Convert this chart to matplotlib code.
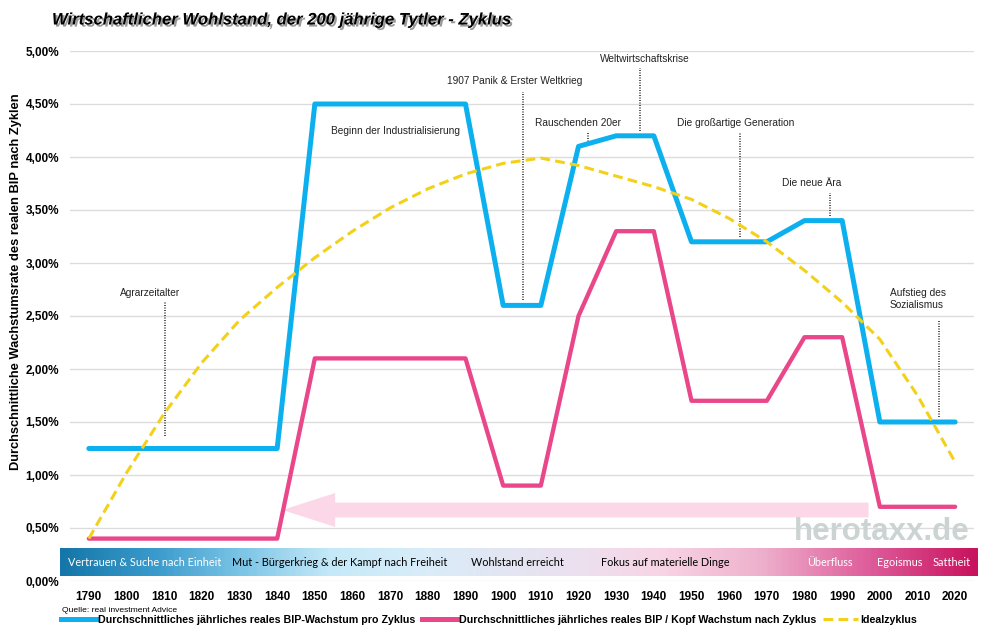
import numpy as np
import matplotlib
matplotlib.use('Agg')
import matplotlib.pyplot as plt
import matplotlib.patheffects as pe
from matplotlib.colors import LinearSegmentedColormap
from matplotlib.patches import FancyArrow
from matplotlib.lines import Line2D

# data
years = [1790, 1800, 1810, 1820, 1830, 1840, 1850, 1860, 1870, 1880, 1890, 1900,
         1910, 1920, 1930, 1940, 1950, 1960, 1970, 1980, 1990, 2000, 2010, 2020]
bip = [1.25, 1.25, 1.25, 1.25, 1.25, 1.25, 4.5, 4.5, 4.5, 4.5, 4.5, 2.6,
       2.6, 4.1, 4.2, 4.2, 3.2, 3.2, 3.2, 3.4, 3.4, 1.5, 1.5, 1.5]
bip_kopf = [0.4, 0.4, 0.4, 0.4, 0.4, 0.4, 2.1, 2.1, 2.1, 2.1, 2.1, 0.9,
            0.9, 2.5, 3.3, 3.3, 1.7, 1.7, 1.7, 2.3, 2.3, 0.7, 0.7, 0.7]
ideal = [0.4, 1.02, 1.58, 2.06, 2.46, 2.77, 3.05, 3.3, 3.52, 3.7, 3.84, 3.94,
         3.99, 3.92, 3.82, 3.72, 3.6, 3.42, 3.2, 2.93, 2.63, 2.28, 1.75, 1.12]

series_names = ['Durchschnittliches jährliches reales BIP-Wachstum pro Zyklus',
                'Durchschnittliches jährliches reales BIP / Kopf Wachstum nach Zyklus',
                'Idealzyklus']

# event labels: text, text x/y, dotted line x, line from/to
events = ['Agrarzeitalter', 'Beginn der Industrialisierung', '1907 Panik & Erster Weltkrieg',
          'Rauschenden 20er', 'Weltwirtschaftskrise', 'Die großartige Generation',
          'Die neue Ära', 'Aufstieg des\nSozialismus']
event_text_x = [1806.2, 1871.3, 1903.1, 1919.9, 1937.7, 1961.6, 1982.0, 2002.7]
event_text_y = [2.72, 4.25, 4.72, 4.32, 4.92, 4.32, 3.75, 2.66]
event_line_x = [1810.2, None, 1905.3, 1922.5, 1936.3, 1962.9, 1986.8, 2015.8]
event_line_y0 = [1.37, None, 2.65, 4.12, 4.25, 3.25, 3.44, 1.55]
event_line_y1 = [2.63, None, 4.61, 4.24, 4.84, 4.23, 3.66, 2.46]

phases = ['Vertrauen & Suche nach Einheit', 'Mut - Bürgerkrieg & der Kampf nach Freiheit',
          'Wohlstand erreicht', 'Fokus auf materielle Dinge', 'Überfluss', 'Egoismus', 'Sattheit']
phase_px = [145, 340, 517, 665, 830, 900, 952]
phase_colors = ['white', 'black', 'black', 'black', 'white', 'white', 'white']

blue = '#0db0ee'
pink = '#e9478a'
yellow = '#f3d11b'

plt.rcParams['font.family'] = ['Liberation Sans', 'DejaVu Sans']

fig = plt.figure(figsize=(9.87, 6.28), dpi=100)
ax = fig.add_axes([70/987, 47/628, 904/987, 530/628])

# pink arrow in background
arrow = FancyArrow(1997, 0.67, -155.6, 0, width=0.14, head_width=0.32, head_length=14,
                   length_includes_head=True, color='#fbd7e7', lw=0, zorder=1)
ax.add_patch(arrow)

ax.plot(years, bip, color=blue, lw=3.6, solid_joinstyle='round', solid_capstyle='round', zorder=3)
ax.plot(years, bip_kopf, color=pink, lw=3.1, solid_joinstyle='round', solid_capstyle='round', zorder=4)
ax.plot(years, ideal, color=yellow, lw=2.2, dashes=(3.2, 1.7), zorder=5)

for i, txt in enumerate(events):
    ha = 'left' if '\n' in txt else 'center'
    ax.text(event_text_x[i], event_text_y[i], txt, ha=ha, va='center', fontsize=7.3,
            color='#222222', linespacing=1.2, zorder=6)
    if event_line_x[i] is not None:
        ax.plot([event_line_x[i], event_line_x[i]], [event_line_y0[i], event_line_y1[i]],
                color='#333333', lw=1.2, ls=(0, (0.6, 0.9)), zorder=2)

ax.set_xlim(1785, 2025)
ax.set_ylim(0, 5)
ax.set_xticks(years)
ax.set_xticklabels([str(y) for y in years], fontsize=8.5, fontweight='bold')
yt = np.arange(0, 5.01, 0.5)
ax.set_yticks(yt)
ax.set_yticklabels([f'{v:.2f}%'.replace('.', ',') for v in yt], fontsize=8.5, fontweight='bold')
ax.tick_params(axis='both', length=0)
ax.tick_params(axis='y', pad=8)
ax.tick_params(axis='x', pad=7.5)
ax.grid(axis='y', color='#dcdcdc', lw=1)
ax.set_axisbelow(True)
for s in ax.spines.values():
    s.set_visible(False)

# watermark
fig.text(882/987, 1-532/628, 'herotaxx.de', fontsize=22.5, fontweight='bold', color='#ccd3d3',
         ha='center', va='center', zorder=0)

# gradient band of phases
band = fig.add_axes([60/987, 1-576/628, 918/987, 28/628])
cmap = LinearSegmentedColormap.from_list('band', [
    (0.0, '#1577a9'), (0.1, '#3a9acb'), (0.196, '#7cc5e6'), (0.294, '#c5e9f8'),
    (0.392, '#d8edf9'), (0.48, '#e3e6f3'), (0.566, '#ece0ef'), (0.654, '#f8d5e5'),
    (0.763, '#eeb2cd'), (0.883, '#de5d9b'), (1.0, '#c8135e')])
band.imshow(np.linspace(0, 1, 400).reshape(1, -1), cmap=cmap, aspect='auto',
            extent=(60, 978, 0, 1))
band.set_xlim(60, 978)
band.set_ylim(0, 1)
band.axis('off')
for name, px, c in zip(phases, phase_px, phase_colors):
    band.text(px, 0.5, name, ha='center', va='center', fontsize=7.8, color=c,
              family=['Lato', 'DejaVu Sans'])

# title with shadow
fig.text(52/987, 1-20/628, 'Wirtschaftlicher Wohlstand, der 200 jährige Tytler - Zyklus',
         ha='left', va='center', fontsize=12, fontweight='bold', style='italic',
         path_effects=[pe.SimplePatchShadow(offset=(1.5, -1.5), shadow_rgbFace='#555555', alpha=0.6),
                       pe.Normal()])

fig.text(16/987, 1-282/628, 'Durchschnittliche Wachstumsrate des realen BIP nach Zyklen',
         rotation=90, ha='center', va='center', fontsize=9.3, fontweight='bold')

fig.text(62/987, 1-610/628, 'Quelle: real investment Advice', fontsize=6.1, ha='left', va='center')

handles = [Line2D([], [], color=blue, lw=3.6),
           Line2D([], [], color=pink, lw=3.6),
           Line2D([], [], color=yellow, lw=2.2, dashes=(3.2, 1.7))]
fig.legend(handles, series_names, loc='center left', bbox_to_anchor=(61/987, 1-620/628),
           ncol=3, frameon=False, prop={'weight': 'bold', 'size': 7.65},
           handlelength=3.3, handletextpad=0.2, columnspacing=0.6, borderaxespad=0, borderpad=0)

fig.savefig('out.png', dpi=100)
